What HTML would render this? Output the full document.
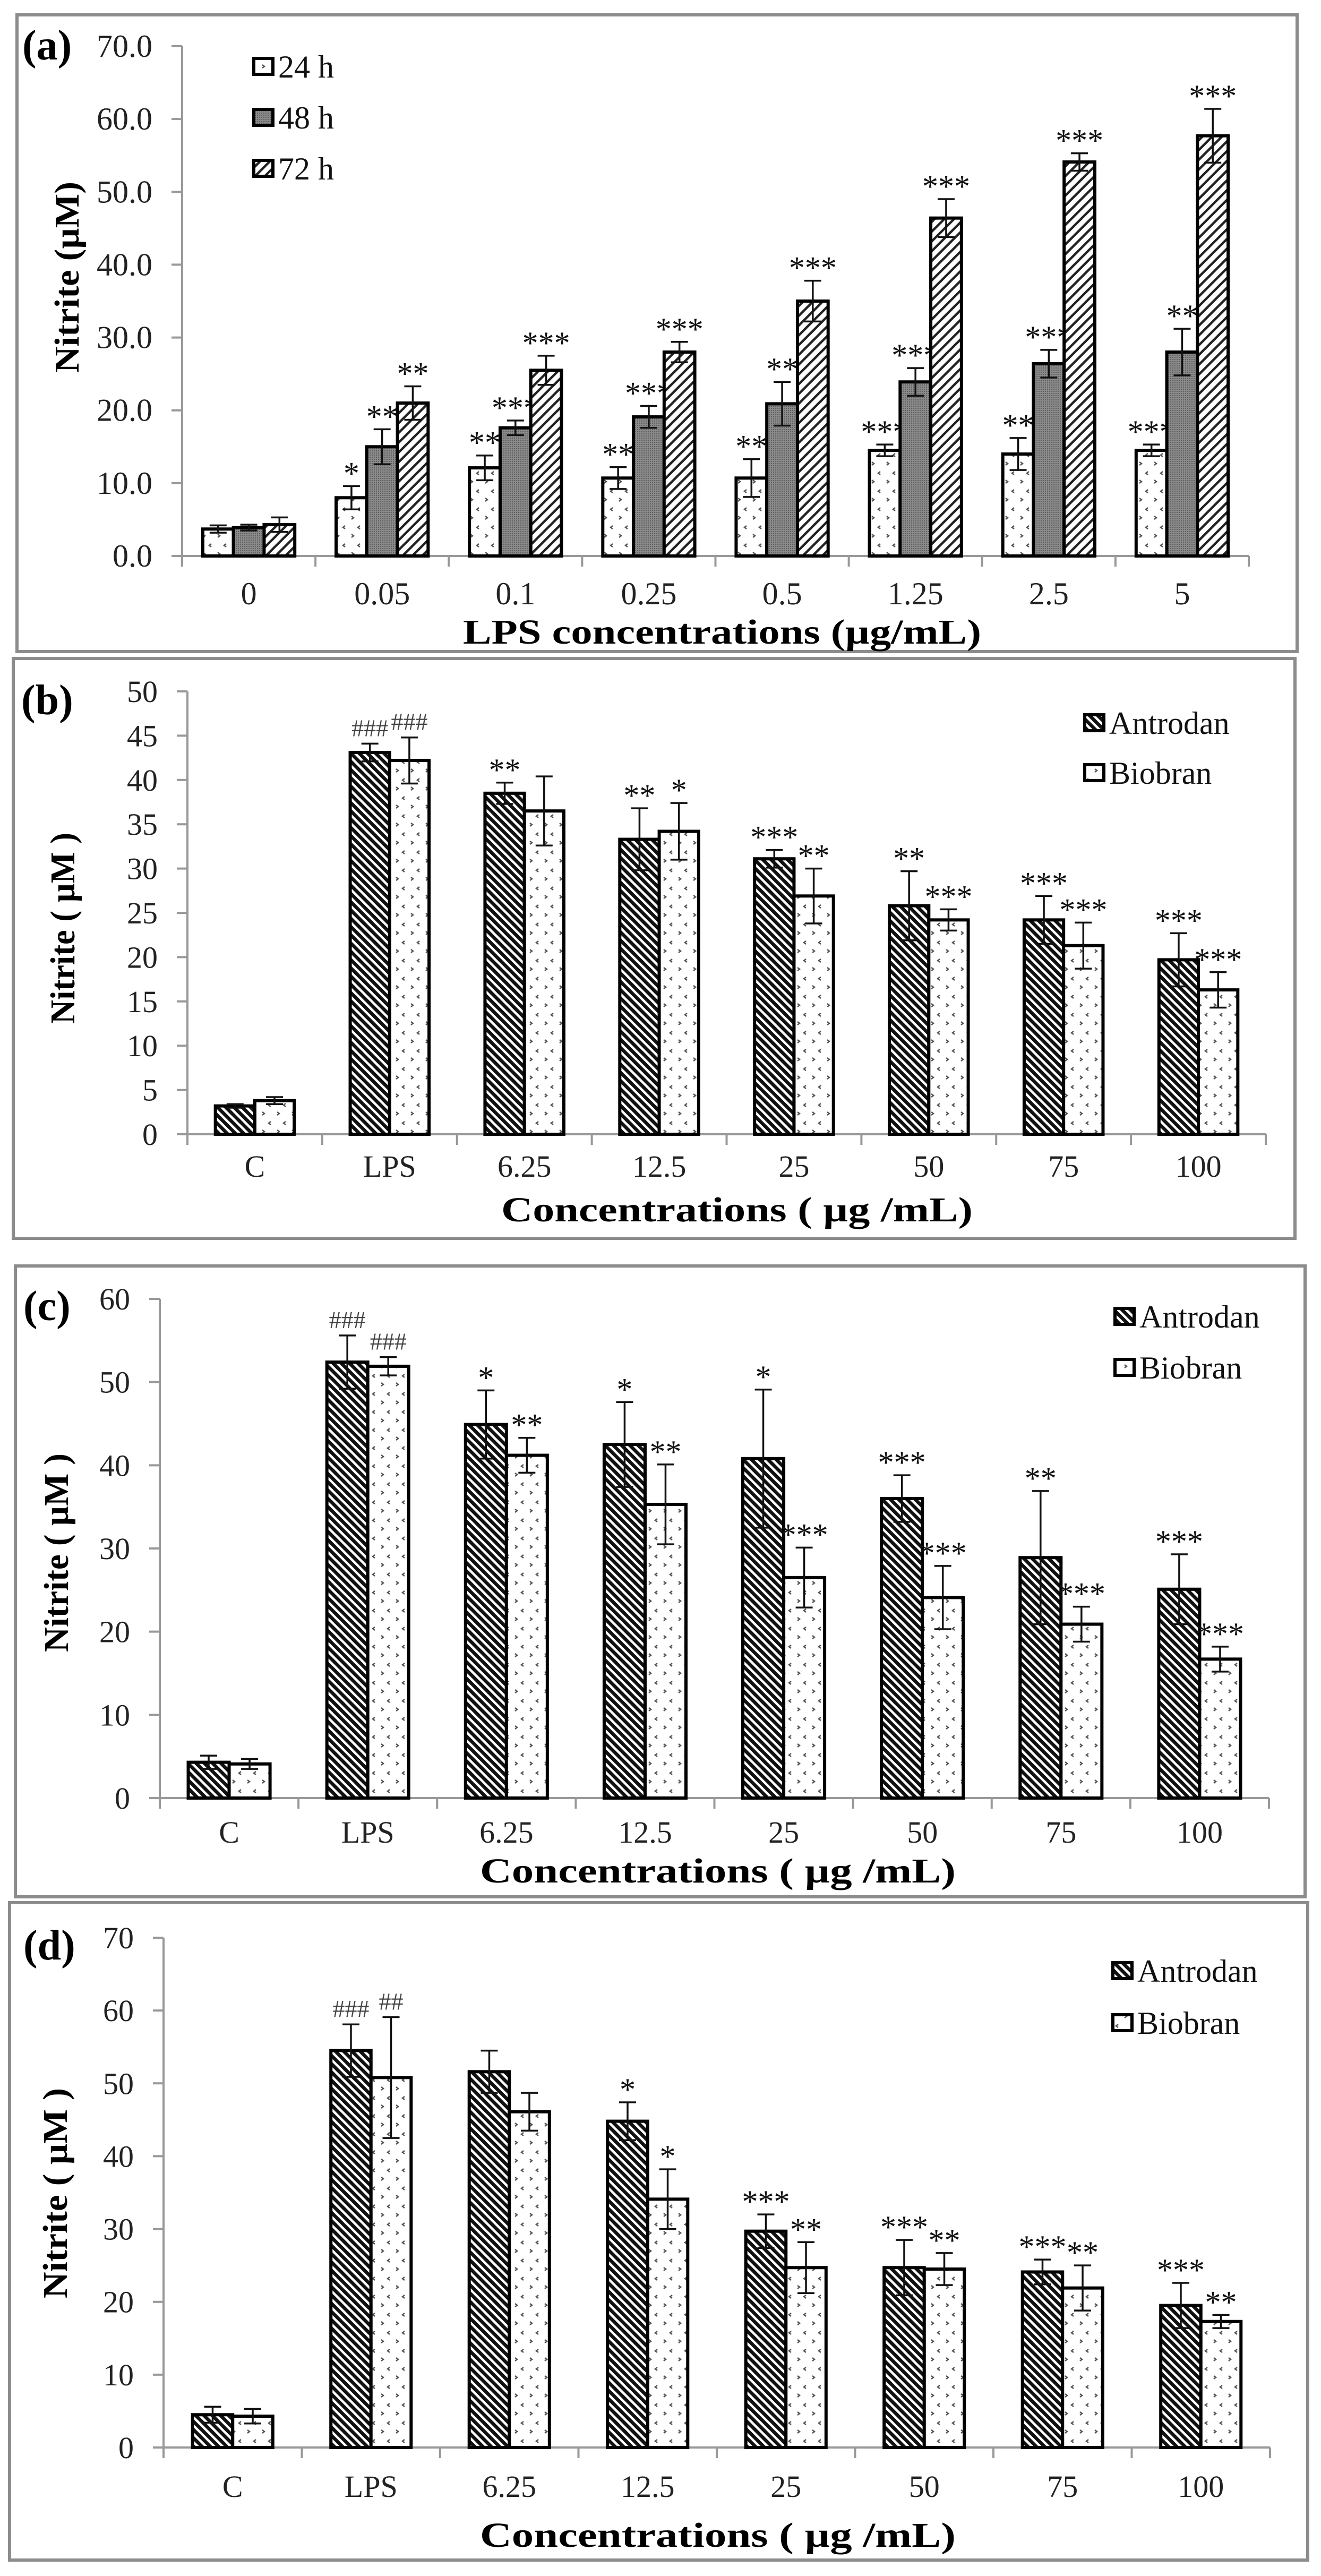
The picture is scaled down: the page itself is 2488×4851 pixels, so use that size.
<!DOCTYPE html>
<html><head><meta charset="utf-8"><style>
html,body{margin:0;padding:0;background:#fff;}
svg{display:block;}
text{font-family:"Liberation Serif",serif;}
</style></head>
<body>
<svg id="fig" width="2488" height="4851" viewBox="0 0 2488 4851" xmlns="http://www.w3.org/2000/svg" font-family="Liberation Serif, serif">
<defs>
<pattern id="pAntro" width="11" height="11" patternUnits="userSpaceOnUse" patternTransform="rotate(-45)">
<rect width="11" height="11" fill="#fff"/><rect width="6.5" height="11" fill="#111"/></pattern>
<pattern id="p72" width="13" height="13" patternUnits="userSpaceOnUse" patternTransform="rotate(45)">
<rect width="13" height="13" fill="#fff"/><rect width="4.5" height="13" fill="#222"/></pattern>
<pattern id="pDot" width="28" height="34" patternUnits="userSpaceOnUse">
<rect width="28" height="34" fill="#fff"/>
<path d="M6 4 l-4 3 l4 3" stroke="#555" stroke-width="2.5" fill="none"/>
<path d="M18 20 l4 3 l-4 3" stroke="#555" stroke-width="2.5" fill="none"/></pattern>
<pattern id="p48" width="4" height="4" patternUnits="userSpaceOnUse">
<rect width="4" height="4" fill="#8a8a8a"/><rect width="2" height="2" fill="#5e5e5e"/></pattern>
</defs>
<g id="root"></g>
</svg>
<script>
// ---------- Panel (a) data ----------
const aCats = ["0","0.05","0.1","0.25","0.5","1.25","2.5","5"];
const a24 = [3.7, 8.0, 12.1, 10.7, 10.7, 14.5, 14.0, 14.5];
const a24err = [0.5, 1.6, 1.7, 1.5, 2.6, 0.8, 2.2, 0.8];
const a24sig = ["", "*", "**", "**", "**", "***", "**", "***"];
const a48 = [3.9, 15.0, 17.6, 19.1, 20.9, 23.9, 26.4, 28.0];
const a48err = [0.4, 2.4, 1.0, 1.5, 3.0, 1.9, 1.9, 3.2];
const a48sig = ["", "**", "***", "***", "**", "***", "***", "**"];
const a72 = [4.3, 21.0, 25.5, 28.0, 35.0, 46.4, 54.1, 57.7];
const a72err = [1.0, 2.3, 2.0, 1.4, 2.8, 2.6, 1.2, 3.7];
const a72sig = ["", "**", "***", "***", "***", "***", "***", "***"];
const aTicks = ["0.0","10.0","20.0","30.0","40.0","50.0","60.0","70.0"];

// ---------- Panels (b)-(d) shared categories ----------
const concCats = ["C","LPS","6.25","12.5","25","50","75","100"];

const bAntro = [3.2, 43.1, 38.5, 33.3, 31.1, 25.8, 24.2, 19.7];
const bAntroErr = [0.2, 1.0, 1.2, 3.5, 1.0, 3.9, 2.7, 3.0];
const bAntroSig = ["", "###", "**", "**", "***", "**", "***", "***"];
const bBio = [3.8, 42.2, 36.5, 34.2, 26.9, 24.2, 21.3, 16.3];
const bBioErr = [0.4, 2.6, 3.9, 3.2, 3.1, 1.2, 2.6, 2.0];
const bBioSig = ["", "###", "", "*", "**", "***", "***", "***"];
const bTicks = ["0","5","10","15","20","25","30","35","40","45","50"];

const cAntro = [4.3, 52.4, 44.9, 42.5, 40.8, 36.0, 28.9, 25.1];
const cAntroErr = [0.8, 3.2, 4.1, 5.1, 8.3, 2.8, 8.0, 4.2];
const cAntroSig = ["", "###", "*", "*", "*", "***", "**", "***"];
const cBio = [4.1, 51.9, 41.2, 35.3, 26.5, 24.1, 20.9, 16.7];
const cBioErr = [0.6, 1.1, 2.1, 4.8, 3.6, 3.8, 2.1, 1.5];
const cBioSig = ["", "###", "**", "**", "***", "***", "***", "***"];
const cTicks = ["0","10","20","30","40","50","60"];

const dAntro = [4.5, 54.5, 51.6, 44.8, 29.7, 24.7, 24.1, 19.5];
const dAntroErr = [1.1, 3.6, 2.9, 2.6, 2.3, 3.8, 1.7, 3.1];
const dAntroSig = ["", "###", "", "*", "***", "***", "***", "***"];
const dBio = [4.3, 50.8, 46.1, 34.1, 24.7, 24.5, 21.9, 17.3];
const dBioErr = [1.0, 8.3, 2.6, 4.1, 3.5, 2.2, 3.1, 0.9];
const dBioSig = ["", "##", "", "*", "**", "**", "**", "**"];
const dTicks = ["0","10","20","30","40","50","60","70"];

const NS = "http://www.w3.org/2000/svg";
const FF = "Liberation Serif, serif";
const root = document.getElementById("root");
function mk(tag, attrs, parent, txt){
  const e = document.createElementNS(NS, tag);
  for (const k in attrs) e.setAttribute(k, attrs[k]);
  if (tag === "text") e.setAttribute("font-family", FF);
  if (txt !== undefined) e.textContent = txt;
  (parent || root).appendChild(e);
  return e;
}

function panel(cfg){
  const g = mk("g", {});
  
  
  const box = mk("rect", {x:cfg.box[0], y:cfg.box[1], width:cfg.box[2]-cfg.box[0], height:cfg.box[3]-cfg.box[1], fill:"none", stroke:"#8c8c8c", "stroke-width":6}, g);
  
  
  const lab = mk("text", {x:cfg.lab[0], y:cfg.lab[1], "font-size":80, "font-weight":"bold"}, g, "(" + cfg.id + ")");
  
  

  const x0 = cfg.ax[0], x1 = cfg.ax[1], y0 = cfg.ax[2], yTop = cfg.ax[3];
  const n = cfg.cats.length, cw = (x1 - x0) / n;
  const ymax = cfg.ymax;
  const yS = v => y0 - (v / ymax) * (y0 - yTop);
  const xC = i => x0 + cw * (i + 0.5);

  const yax = mk("line", {x1:x0, y1:yTop, x2:x0, y2:y0, stroke:"#999", "stroke-width":4}, g);
  
  
  cfg.ticks.forEach((t, i) => {
    const v = ymax * i / (cfg.ticks.length - 1);
    const y = yS(v);
    const tl = mk("line", {x1:x0-20, y1:y, x2:x0, y2:y, stroke:"#999", "stroke-width":4}, g);
    
    
    const tt = mk("text", {x:x0-56, y:y+20, "font-size":cfg.tfs, "text-anchor":"end", fill:"#222"}, g, t);
    
    
  });
  const xax = mk("line", {x1:x0, y1:y0, x2:x1, y2:y0, stroke:"#999", "stroke-width":4}, g);
  
  
  for (let i = 0; i <= n; i++){
    const xt = mk("line", {x1:x0+cw*i, y1:y0, x2:x0+cw*i, y2:y0+20, stroke:"#999", "stroke-width":4}, g);
    
    
  }
  cfg.cats.forEach((c, i) => {
    const t = mk("text", {x:xC(i), y:cfg.xlabY, "font-size":cfg.tfs, "text-anchor":"middle", fill:"#222"}, g, c);
    
    
  });

  const ns = cfg.series.length;
  const gw = cw * cfg.gfrac, bw = gw / ns;
  cfg.series.forEach((s, si) => {
    s.vals.forEach((v, i) => {
      const bx = xC(i) - gw/2 + bw*si;
      const by = yS(v);
      const r = mk("rect", {x:bx, y:by, width:bw, height:y0-by, fill:s.fill, stroke:"#000", "stroke-width":6}, g);
      
      
      const cx = bx + bw/2;
      const e = s.err[i];
      const ytop = yS(v + e), ybot = yS(Math.max(0, v - e));
      const el = mk("path", {d:`M${cx} ${ytop} V${ybot} M${cx-16} ${ytop} H${cx+16} M${cx-16} ${ybot} H${cx+16}`, stroke:"#111", "stroke-width":3.5, fill:"none"}, g);
      
      
      const sig = s.sig[i];
      if (sig){
        const hash = sig[0] === "#";
        const st = mk("text", {x:cx, y:ytop - (hash ? 14 : 4), "font-size": hash ? 46 : 60, "text-anchor":"middle", fill: hash ? "#444" : "#111"}, g, sig);
        
        
      }
    });
  });

  cfg.series.forEach((s, si) => {
    const ly = cfg.leg[1] + si * cfg.leg[2];
    const lb = mk("rect", {x:cfg.leg[0], y:ly-16, width:36, height:30, fill:s.fill, stroke:"#000", "stroke-width":6}, g);
    
    
    const lt = mk("text", {x:cfg.leg[0]+46, y:ly+20, "font-size":60, fill:"#111"}, g, s.name);
    
    
  });

  const xt = mk("text", {x:cfg.xt[0], y:cfg.xt[1], "font-size":66, "font-weight":"bold", "text-anchor":"middle", textLength:cfg.xt[2], lengthAdjust:"spacingAndGlyphs"}, g, cfg.xtitle);
  
  
  const yt = mk("text", {x:0, y:0, "font-size":66, "font-weight":"bold", "text-anchor":"middle", textLength:cfg.yt[2], lengthAdjust:"spacingAndGlyphs", transform:`translate(${cfg.yt[0]},${cfg.yt[1]}) rotate(-90)`}, g, cfg.ytitle);
  
  
}

panel({id:"a", box:[32,28,2443,1227], lab:[42,112], ax:[343,2352,1047,87], ymax:70, ticks:aTicks, tfs:60,
  cats:aCats, xlabY:1138, gfrac:0.69,
  series:[{key:"24h", name:"24 h", vals:a24, err:a24err, sig:a24sig, fill:"url(#pDot)"},
          {key:"48h", name:"48 h", vals:a48, err:a48err, sig:a48sig, fill:"url(#p48)"},
          {key:"72h", name:"72 h", vals:a72, err:a72err, sig:a72sig, fill:"url(#p72)"}],
  leg:[478,126,96], xt:[1360,1212,976], xtitle:"LPS concentrations (\u00b5g/mL)",
  yt:[148,522,360], ytitle:"Nitrite (\u00b5M)"});

panel({id:"b", box:[25,1240,2439,2332], lab:[40,1345], ax:[353,2384,2136,1302], ymax:50, ticks:bTicks, tfs:58,
  cats:concCats, xlabY:2216, gfrac:0.585,
  series:[{key:"antrodan", name:"Antrodan", vals:bAntro, err:bAntroErr, sig:bAntroSig, fill:"url(#pAntro)"},
          {key:"biobran", name:"Biobran", vals:bBio, err:bBioErr, sig:bBioSig, fill:"url(#pDot)"}],
  leg:[2043,1362,94], xt:[1388,2300,888], xtitle:"Concentrations ( \u00b5g /mL)",
  yt:[140,1748,360], ytitle:"Nitrite ( \u00b5M )"});

panel({id:"c", box:[29,2384,2458,3572], lab:[44,2486], ax:[301,2390,3386,2446], ymax:60, ticks:cTicks, tfs:58,
  cats:concCats, xlabY:3470, gfrac:0.59,
  series:[{key:"antrodan", name:"Antrodan", vals:cAntro, err:cAntroErr, sig:cAntroSig, fill:"url(#pAntro)"},
          {key:"biobran", name:"Biobran", vals:cBio, err:cBioErr, sig:cBioSig, fill:"url(#pDot)"}],
  leg:[2100,2480,96], xt:[1352,3545,896], xtitle:"Concentrations ( \u00b5g /mL)",
  yt:[128,2924,374], ytitle:"Nitrite ( \u00b5M )"});

panel({id:"d", box:[18,3583,2463,4821], lab:[44,3690], ax:[308,2392,4609,3649], ymax:70, ticks:dTicks, tfs:58,
  cats:concCats, xlabY:4702, gfrac:0.58,
  series:[{key:"antrodan", name:"Antrodan", vals:dAntro, err:dAntroErr, sig:dAntroSig, fill:"url(#pAntro)"},
          {key:"biobran", name:"Biobran", vals:dBio, err:dBioErr, sig:dBioSig, fill:"url(#pDot)"}],
  leg:[2096,3712,98], xt:[1352,4796,896], xtitle:"Concentrations ( \u00b5g /mL)",
  yt:[126,4130,396], ytitle:"Nitrite ( \u00b5M )"});
</script>
</body></html>
